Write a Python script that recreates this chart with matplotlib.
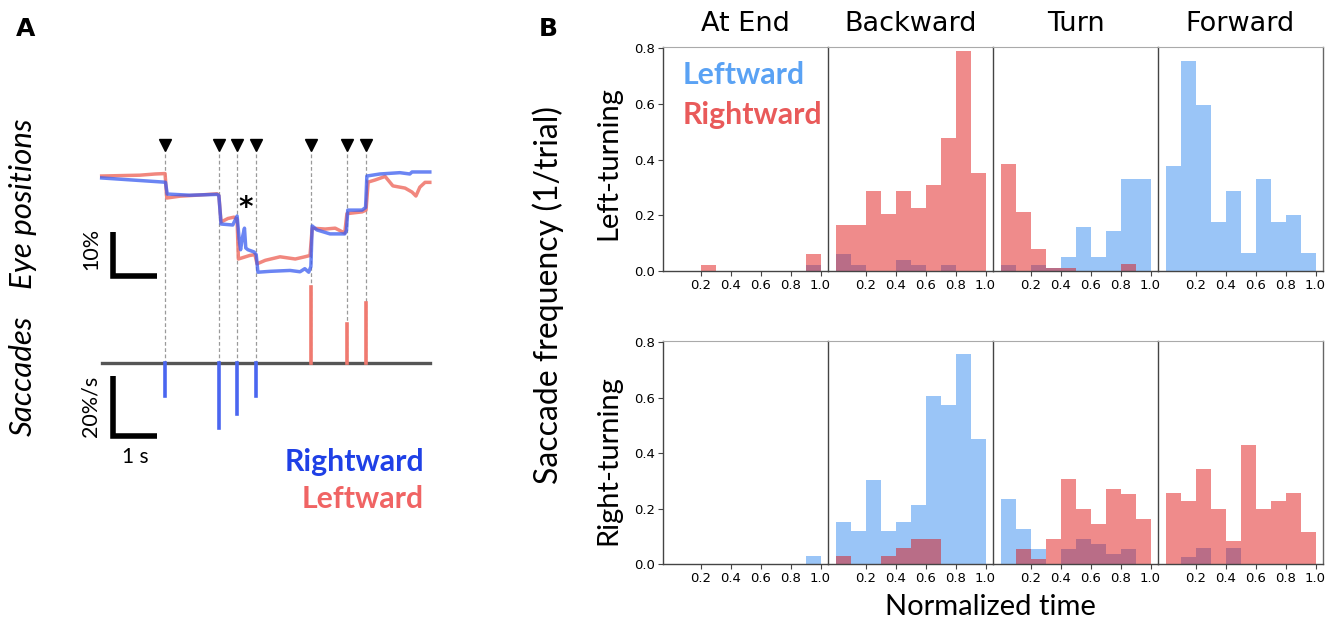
import matplotlib
matplotlib.use('Agg')
import matplotlib.pyplot as plt

W, H = 1327, 627
fig = plt.figure(figsize=(W / 100, H / 100), dpi=100)


def fx(x):
    return x / W


def fy(y):
    return 1 - y / H


LBL = ['Lato', 'DejaVu Sans']

# ---------------- Panel A data ----------------
sacc_times_right = [1.47, 2.70, 3.12, 3.56]      # s (blue, rightward)
sacc_vel_right = [10.9, 21.6, 16.9, 10.9]        # %/s
sacc_times_left = [4.82, 5.65, 6.08]             # s (red, leftward)
sacc_vel_left = [25.4, 13.1, 20.2]               # %/s

blue_t = [0, 1.41, 1.47, 1.51, 2.03, 2.66, 2.70, 2.75, 3.02, 3.12, 3.17, 3.20, 3.25,
          3.29, 3.32, 3.37, 3.51, 3.56, 3.60, 3.88, 4.34, 4.57, 4.68, 4.77, 4.82, 4.85,
          4.96, 5.26, 5.60, 5.64, 5.67, 6.00, 6.08, 6.11, 6.41, 6.87, 7.10, 7.15, 7.56]
blue_pos = [0, -0.93, -1.0, -3.65, -3.92, -3.73, -4.0, -10.46, -10.68, -8.64, -14.1,
            -16.3, -13.2, -11.4, -15.9, -16.3, -16.8, -17.4, -21.4, -21.2, -21.0, -21.3,
            -20.6, -21.4, -20.1, -10.9, -11.8, -12.7, -12.7, -11.9, -7.3, -7.3, -6.7,
            0.44, 0.9, 1.2, 0.9, 1.36, 1.36]
red_t = [0, 0.88, 1.23, 1.46, 1.50, 1.80, 2.26, 2.66, 2.70, 2.75, 2.91, 3.05, 3.12,
         3.15, 3.41, 3.53, 3.58, 3.77, 4.11, 4.46, 4.68, 4.80, 4.85, 5.15, 5.38, 5.60,
         5.65, 6.00, 6.09, 6.14, 6.30, 6.53, 6.71, 6.99, 7.15, 7.24, 7.33, 7.45, 7.56]
red_pos = [0.44, 0.63, 0.9, 1.0, -4.55, -4.14, -3.87, -3.6, -4.0, -10.0, -9.2, -8.9,
           -9.45, -18.4, -17.6, -17.4, -19.5, -18.7, -17.9, -18.4, -17.9, -17.6, -11.4,
           -11.6, -11.4, -12.5, -8.1, -7.7, -7.3, -0.93, -0.46, 0.35, -1.8, -2.3, -3.2,
           -4.1, -2.1, -1.0, -1.0]

VEL_BASE = -42.07      # baseline of saccade trace (position units)
VEL_SCALE = 0.681      # position units per %/s

axA = fig.add_axes([fx(95), fy(480), 345 / W, 360 / H])
axA.set_xlim(-0.154, 7.795)
axA.set_ylim(-68.58, 13.16)
axA.axis('off')

all_times = sacc_times_right + sacc_times_left
for t in all_times:
    axA.plot([t, t], [5.5, VEL_BASE], ls=(0, (3, 2)), color='#9a9a9a', lw=0.9, zorder=1)
axA.plot(all_times, [7.4] * len(all_times), 'v', color='black', ms=9, zorder=3)

axA.plot(red_t, red_pos, color='#f07a70', lw=2.5, alpha=0.9, zorder=2)
axA.plot(blue_t, blue_pos, color='#3a5cf0', lw=2.5, alpha=0.75, zorder=2)

axA.plot([0, 7.56], [VEL_BASE, VEL_BASE], color='#555555', lw=2.4, zorder=2)
for t, v in zip(sacc_times_right, sacc_vel_right):
    axA.plot([t, t], [VEL_BASE, VEL_BASE - v * VEL_SCALE], color='#4a66f0', lw=2.6, zorder=2)
for t, v in zip(sacc_times_left, sacc_vel_left):
    axA.plot([t, t], [VEL_BASE, VEL_BASE + v * VEL_SCALE], color='#f07a70', lw=2.6, zorder=2)

axA.text(3.32, -6.8, '*', fontsize=20, fontweight='bold', ha='center', va='center')

# scale bars
axA.plot([0.267, 0.267, 1.267], [-12.26, -22.26, -22.26], color='black', lw=4,
         solid_capstyle='butt', solid_joinstyle='miter')
axA.plot([0.267, 0.267, 1.267], [-58.6 + 20 * VEL_SCALE, -58.6, -58.6], color='black', lw=4,
         solid_capstyle='butt', solid_joinstyle='miter')

fig.text(fx(91), fy(249), '10%', rotation=90, ha='center', va='center', fontsize=15.5, family=LBL)
fig.text(fx(91), fy(406), '20%/s', rotation=90, ha='center', va='center', fontsize=15.5, family=LBL)
fig.text(fx(135), fy(457), '1 s', ha='center', va='center', fontsize=15, family=LBL)
fig.text(fx(23), fy(204), 'Eye positions', rotation=90, ha='center', va='center', fontsize=22.5,
         style='italic', family=LBL)
fig.text(fx(23), fy(376), 'Saccades', rotation=90, ha='center', va='center', fontsize=22.5,
         style='italic', family=LBL)
fig.text(fx(424), fy(462), 'Rightward', ha='right', va='center', fontsize=21.8, fontweight='bold',
         color='#1f40e6', family=LBL)
fig.text(fx(424), fy(499), 'Leftward', ha='right', va='center', fontsize=21.8, fontweight='bold',
         color='#f06464', family=LBL)

fig.text(fx(26), fy(29), 'A', ha='center', va='center', fontsize=18, fontweight='bold')
fig.text(fx(548), fy(29), 'B', ha='center', va='center', fontsize=18, fontweight='bold')

# ---------------- Panel B data ----------------
phases = ['At End', 'Backward', 'Turn', 'Forward']
bin_left = [0.0, 0.1, 0.2, 0.3, 0.4, 0.5, 0.6, 0.7, 0.8, 0.9]
tick_vals = [0.2, 0.4, 0.6, 0.8, 1.0]
tick_labels = ['0.2', '0.4', '0.6', '0.8', '1.0']
ytick_vals = [0.0, 0.2, 0.4, 0.6, 0.8]
ytick_labels = ['0.0', '0.2', '0.4', '0.6', '0.8']

# Left-turning trials
lt_leftward = {
    'At End':   [0, 0, 0, 0, 0, 0, 0, 0, 0, 0.02],
    'Backward': [0.062, 0.02, 0, 0, 0.041, 0.02, 0, 0.02, 0, 0],
    'Turn':     [0.02, 0, 0.02, 0.01, 0.05, 0.158, 0.05, 0.144, 0.331, 0.331],
    'Forward':  [0.376, 0.754, 0.597, 0.176, 0.286, 0.066, 0.331, 0.176, 0.2, 0.066],
}
lt_rightward = {
    'At End':   [0, 0, 0.02, 0, 0, 0, 0, 0, 0, 0.062],
    'Backward': [0.166, 0.166, 0.289, 0.206, 0.289, 0.227, 0.31, 0.477, 0.79, 0.353],
    'Turn':     [0.385, 0.212, 0.078, 0.01, 0.01, 0, 0, 0, 0.024, 0],
    'Forward':  [0, 0, 0, 0, 0, 0, 0, 0, 0, 0],
}
# Right-turning trials
rt_leftward = {
    'At End':   [0, 0, 0, 0, 0, 0, 0, 0, 0, 0.029],
    'Backward': [0.15, 0.12, 0.302, 0.12, 0.15, 0.212, 0.605, 0.574, 0.757, 0.451],
    'Turn':     [0.236, 0.126, 0.053, 0, 0.053, 0.09, 0.071, 0.035, 0.053, 0],
    'Forward':  [0, 0.026, 0.056, 0, 0.056, 0, 0, 0, 0, 0],
}
rt_rightward = {
    'At End':   [0, 0, 0, 0, 0, 0, 0, 0, 0, 0],
    'Backward': [0.029, 0, 0, 0.029, 0.059, 0.09, 0.09, 0, 0, 0],
    'Turn':     [0, 0.053, 0.017, 0.089, 0.308, 0.2, 0.146, 0.271, 0.254, 0.162],
    'Forward':  [0.256, 0.228, 0.343, 0.2, 0.084, 0.428, 0.2, 0.228, 0.256, 0.115],
}

BLUE = '#368cf1'
RED = '#de0a0a'

rows = [((47, 271), lt_leftward, lt_rightward), ((341, 564), rt_leftward, rt_rightward)]
for r, ((top, bot), d_left, d_right) in enumerate(rows):
    for c, ph in enumerate(phases):
        ax = fig.add_axes([fx(663 + 165 * c), fy(bot), 165 / W, (bot - top) / H])
        ax.bar(bin_left, d_left[ph], width=0.1, align='edge', color=BLUE, alpha=0.5, lw=0)
        ax.bar(bin_left, d_right[ph], width=0.1, align='edge', color=RED, alpha=0.47, lw=0)
        ax.set_xlim(-0.05, 1.05)
        ax.set_ylim(0, 0.805)
        ax.set_xticks(tick_vals)
        ax.set_xticklabels(tick_labels)
        ax.tick_params(axis='x', labelsize=9.5, length=3.5, width=0.8, color='#444444', pad=2)
        for s in ['left', 'bottom']:
            ax.spines[s].set_color('#444444')
            ax.spines[s].set_linewidth(1.0)
        ax.spines['top'].set_color('#aaaaaa')
        ax.spines['top'].set_linewidth(0.8)
        if c == 3:
            ax.spines['right'].set_color('#666666')
            ax.spines['right'].set_linewidth(1.0)
        else:
            ax.spines['right'].set_visible(False)
        if c == 0:
            ax.set_yticks(ytick_vals)
            ax.set_yticklabels(ytick_labels)
            ax.tick_params(axis='y', labelsize=9.5, length=3.5, width=0.8, color='#444444', pad=2)
        else:
            ax.set_yticks([])
        if r == 0:
            fig.text(fx(663 + 165 * c + 82.5), fy(24), ph, ha='center', va='center', fontsize=19.5)

fig.text(fx(683), fy(75), 'Leftward', ha='left', va='center', fontsize=21.8, fontweight='bold',
         color='#5aa2f4', family=LBL)
fig.text(fx(683), fy(115), 'Rightward', ha='left', va='center', fontsize=21.8, fontweight='bold',
         color='#e95a5a', family=LBL)

fig.text(fx(548), fy(295), 'Saccade frequency (1/trial)', rotation=90, ha='center', va='center',
         fontsize=23, family=LBL)
fig.text(fx(608), fy(163), 'Left-turning', rotation=90, ha='center', va='center',
         fontsize=21, family=LBL)
fig.text(fx(608), fy(460), 'Right-turning', rotation=90, ha='center', va='center',
         fontsize=21, family=LBL)
fig.text(fx(990), fy(607), 'Normalized time', ha='center', va='center', fontsize=21, family=LBL)

fig.savefig('out.png', dpi=100)
